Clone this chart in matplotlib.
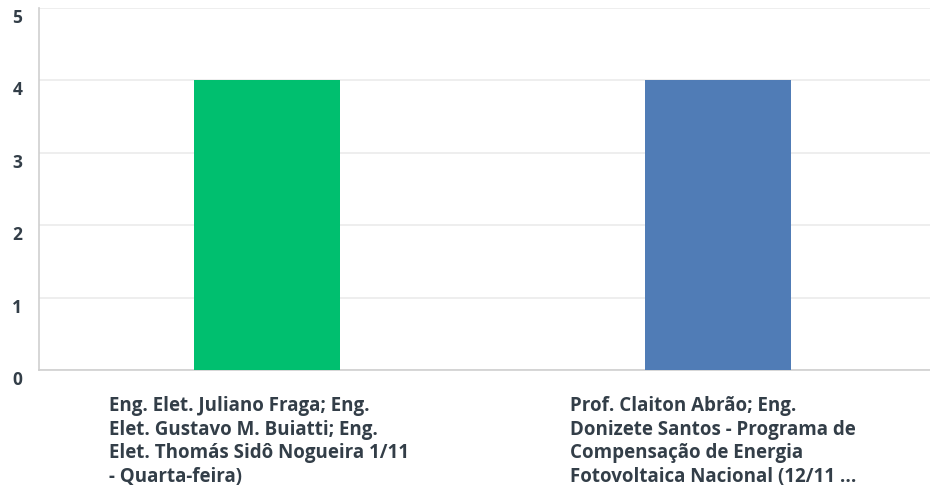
import matplotlib.pyplot as plt
from matplotlib import transforms

categories = [
    'Eng. Elet. Juliano Fraga; Eng.\nElet. Gustavo M. Buiatti; Eng.\nElet. Thomás Sidô Nogueira 1/11\n- Quarta-feira)',
    'Prof. Claiton Abrão; Eng.\nDonizete Santos - Programa de\nCompensação de Energia\nFotovoltaica Nacional (12/11 ...',
]
values = [4, 4]
colors = ['#00bf6f', '#507cb6']
yticks = [0, 1, 2, 3, 4, 5]

plt.rcParams['font.family'] = ['Open Sans', 'DejaVu Sans']
text_color = '#333e48'

fig = plt.figure(figsize=(9.3, 4.91), dpi=100)
ax = fig.add_axes([0.042, 0.246, 0.958, 0.738])

x = list(range(len(categories)))
ax.bar(x, values, width=0.324, color=colors, zorder=3)

ax.set_xlim(-0.505, 1.47)
ax.set_ylim(0, 5)
ax.set_yticks(yticks)
ax.set_yticklabels([str(t) for t in yticks], fontsize=12.5, color=text_color, fontweight='bold')
ax.tick_params(axis='y', length=0, pad=12)
# labels sit a little below their grid lines
off = transforms.ScaledTranslation(0, -8 / 100, fig.dpi_scale_trans)
for lbl in ax.get_yticklabels():
    lbl.set_transform(lbl.get_transform() + off)
ax.set_xticks([])
ax.grid(axis='y', color='#ebebeb', linewidth=1.2, zorder=0)

for s in ['top', 'right']:
    ax.spines[s].set_visible(False)
ax.spines['left'].set_color('#cfcfcf')
ax.spines['bottom'].set_color('#cfcfcf')
ax.spines['left'].set_linewidth(1.2)
ax.spines['bottom'].set_linewidth(1.2)

trans = transforms.blended_transform_factory(ax.transData, ax.transAxes)
for i, lab in enumerate(categories):
    ax.text(i * 1.02 - 0.349, -0.072, lab, transform=trans, ha='left', va='top',
            fontsize=13.5, fontweight='bold', color=text_color, linespacing=1.23)

fig.savefig('out.png', dpi=100)
